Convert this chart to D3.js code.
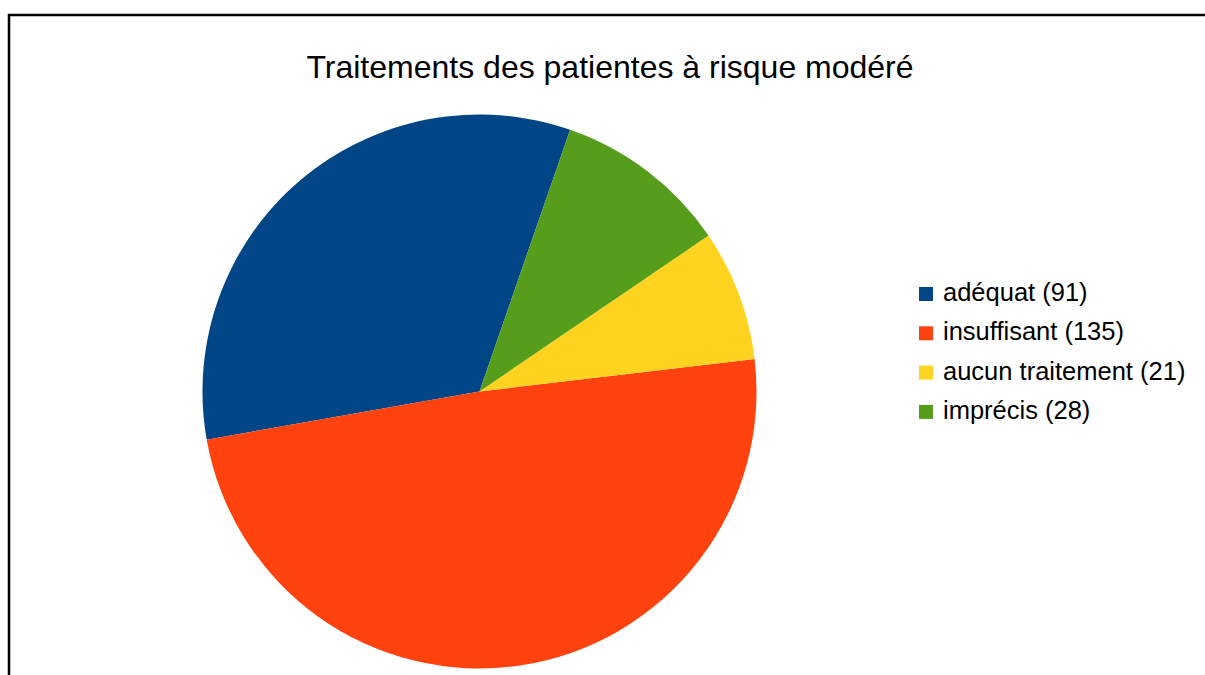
<!DOCTYPE html>
<html>
<head>
<meta charset="utf-8">
<script src="https://cdnjs.cloudflare.com/ajax/libs/d3/7.8.5/d3.min.js"></script>
<style>
  body { margin: 0; background: #ffffff; }
</style>
</head>
<body>
<div id="pieChart"></div>
<script>
// Pie chart - traitements des patientes a risque modere

var categories = ["adéquat", "insuffisant", "aucun traitement", "imprécis"];
var values = [91, 135, 21, 28];
var colors = ["#004586", "#ff420e", "#ffd320", "#579d1c"];
var title = "Traitements des patientes à risque modéré";

var width = 1205,
    height = 675;

var svg = d3.select("#pieChart").append("svg")
    .attr("width", width)
    .attr("height", height);

// Frame of the chart (right and bottom edges are off screen)
svg.append("rect")
    .attr("x", 9)
    .attr("y", 15)
    .attr("width", 1210)
    .attr("height", 700)
    .style("fill", "#ffffff")
    .style("stroke", "#000000")
    .style("stroke-width", 2.5);

svg.append("text")
    .attr("x", 610)
    .attr("y", 78)
    .style("text-anchor", "middle")
    .style("font-family", "'Liberation Sans', Arial, sans-serif")
    .style("font-size", "32px")
    .style("fill", "#000000")
    .text(title);

var cx = 479.5,
    cy = 391.5,
    radius = 277;

// LibreOffice draws slices counter clockwise
var start = 19.1 * Math.PI / 180;

var pie = d3.pie()
    .sort(null)
    .startAngle(start)
    .endAngle(start - 2 * Math.PI)
    .value(function(d) { return d; });

var arc = d3.arc()
    .innerRadius(0)
    .outerRadius(radius);

var g = svg.append("g")
    .attr("transform", "translate(" + cx + "," + cy + ")");

g.selectAll(".slice")
  .data(pie(values))
  .enter().append("path")
    .attr("class", "slice")
    .attr("d", arc)
    .style("fill", function(d, i) { return colors[i]; });

// Legend
var legend = svg.append("g")
    .attr("class", "legend")
    .selectAll("g")
    .data(categories)
    .enter().append("g")
    .attr("transform", function(d, i) { return "translate(919," + (301 + i * 39.3) + ")"; });

legend.append("rect")
    .attr("x", 0)
    .attr("y", -14)
    .attr("width", 14)
    .attr("height", 14)
    .style("fill", function(d, i) { return colors[i]; });

legend.append("text")
    .attr("x", 24)
    .attr("y", 0)
    .style("font-family", "'Liberation Sans', Arial, sans-serif")
    .style("font-size", "25.5px")
    .style("fill", "#000000")
    .text(function(d, i) { return d + " (" + values[i] + ")"; });
</script>
</body>
</html>
